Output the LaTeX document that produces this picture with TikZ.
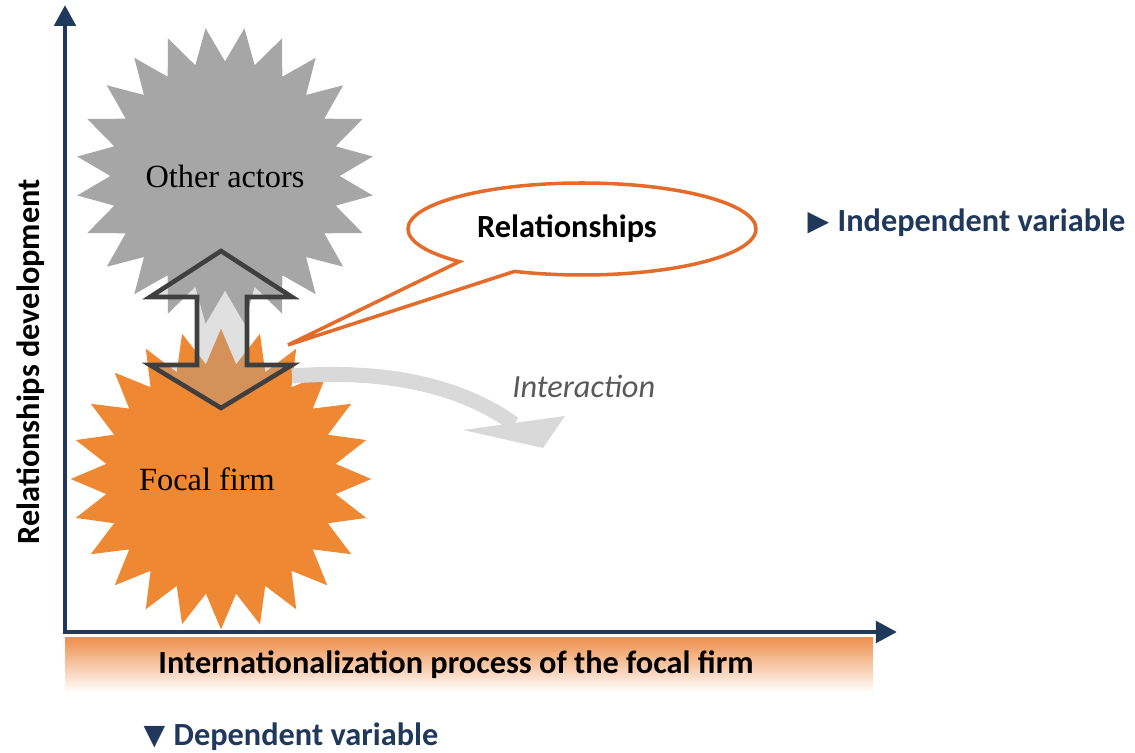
\documentclass[tikz,border=0pt]{standalone}
\usepackage{fontspec}
\setmainfont{Liberation Serif}
\newfontfamily\calibri{Carlito}
\newfontfamily\symb{DejaVu Sans}
\usetikzlibrary{arrows.meta}
\usetikzlibrary{positioning}
\usetikzlibrary{shapes.geometric}
\usetikzlibrary{shapes.callouts}

\definecolor{axisblue}{HTML}{1F385C}
\definecolor{starorange}{HTML}{EE8832}
\definecolor{stargray}{HTML}{A6A6A6}
\definecolor{bubbleorange}{HTML}{E36C2A}
\definecolor{darkline}{HTML}{3F3F3F}
\definecolor{bandgray}{HTML}{D9D9D9}
\definecolor{bandtext}{HTML}{595959}
\definecolor{barorange}{HTML}{EE8F4C}

\begin{document}
\begin{tikzpicture}[x=0.1mm, y=-0.1mm,
    every node/.style={font=\fontsize{9.2}{11}\selectfont},
    burst/.style={star, star points=24, star point ratio=1.3, minimum size=29.8mm, inner sep=0pt},
    other/.style={burst, fill=stargray, shape border rotate=7.5},
    focal/.style={burst, fill=starorange},
    axisline/.style={line width=1.4pt, draw=axisblue, {Triangle[length=2.1mm, width=2.1mm]}-{Triangle[length=2.1mm, width=2.1mm]}},
    axislabel/.style={font=\calibri\bfseries\fontsize{9.2}{11}\selectfont},
    varlabel/.style={axislabel, text=axisblue, inner sep=0pt},
    marker/.style={font=\symb\fontsize{8}{9}\selectfont, text=axisblue, inner sep=0pt},
    bar/.style={axislabel, minimum width=80.8mm, minimum height=5.5mm, top color=barorange, bottom color=white},
    bubble/.style={ellipse callout, draw=bubbleorange, line width=1pt, fill=white, minimum width=34.8mm, minimum height=9.2mm, inner sep=0pt, callout pointer arc=22},
    link/.style={draw=darkline, line width=1.3pt, fill=stargray, fill opacity=0.35, line join=miter},
    band/.style={line width=1.5mm, draw=bandgray}
  ]
  \useasboundingbox (0,0) rectangle (1135,753);

  % x axis caption
  \node[bar] (process) at (469,665) {Internationalization process of the focal firm\hspace*{2.6mm}};

  % the two actors
  \node[other] (actors) at (225,176) {Other actors};
  \node[focal] (firm) at (221,479) {Focal firm\hspace*{2.8mm}};

  % interaction
  \coordinate (istart) at (292,376);
  \coordinate (iend) at (514,424);
  \draw[band] (istart) .. controls (400,368) and (470,392) .. (iend);
  \fill[bandgray] (463,430) -- (565,416) -- (543,448) -- cycle;
  \node[font=\calibri\itshape\fontsize{9.2}{11}\selectfont, text=bandtext, anchor=west] (inter) at (500,386) {Interaction};

  % relationship arrow
  \path[link] (221,251) -- (292,297) -- (247,297) -- (247,365) -- (292,365) -- (221,408)
    -- (150,365) -- (197,365) -- (197,297) -- (150,297) -- cycle;

  \node[bubble, callout absolute pointer={(288,345)}] (rel) at (582,229)
    {\calibri\bfseries Relationships\hspace*{3mm}};

  % axes
  \coordinate (origin) at (65,632);
  \coordinate (ytip) at (65,5);
  \coordinate (xtip) at (897,632);
  \draw[axisline] (ytip) -- (origin) -- (xtip);
  \node[axislabel, rotate=90] (ylabel) at (31,362) {Relationships development};

  % variables
  \node[varlabel, anchor=west] (indep) at (837,223) {Independent variable};
  \node[marker, left=0.7mm of indep] (indepmark) {▶};
  \node[varlabel, anchor=west] (dep) at (173,737) {Dependent variable};
  \node[marker, left=0.7mm of dep] (depmark) {▼};
\end{tikzpicture}
\end{document}
